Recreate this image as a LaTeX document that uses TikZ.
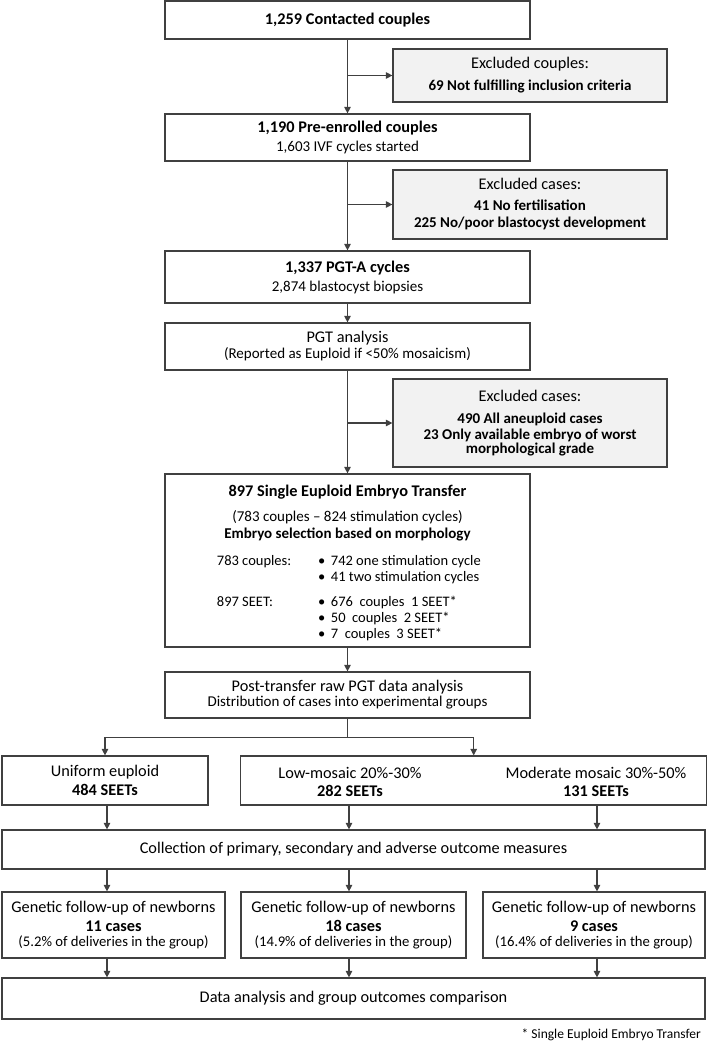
\documentclass[tikz,border=0pt]{standalone}
\usepackage{fontspec}
\setmainfont{Carlito}
\usetikzlibrary{arrows.meta,positioning}

\definecolor{linegray}{HTML}{404040}
\definecolor{exclfill}{HTML}{F2F2F2}

% text sizes of the chart
\newcommand{\bigf}{\fontsize{16.3}{16}\selectfont}
\newcommand{\subf}{\fontsize{15}{16}\selectfont}
\newcommand{\listf}{\fontsize{14.5}{16}\selectfont}
\newcommand{\notef}{\fontsize{14.7}{16}\selectfont}

\begin{document}
\begin{tikzpicture}[
    x=1pt, y=-1pt,
    font=\bigf,
    box/.style={draw=linegray, line width=1.2pt, fill=white, inner sep=0pt, align=center},
    mainbox/.style={box, minimum width=365pt},
    exclbox/.style={box, fill=exclfill, minimum width=274pt},
    groupbox/.style={box, minimum height=49pt},
    genbox/.style={box, minimum height=66pt},
    arrow/.style={-{Triangle[length=6.5pt,width=6.5pt]}, line width=1.1pt, draw=linegray}
  ]
    \useasboundingbox (0,0) rectangle (708,1042);

    % main column
    \node[mainbox, minimum height=38pt] (contact) at (347.5,20) {\textbf{1,259 Contacted couples}};
    \node[exclbox, minimum height=53pt] (exclcouples) at (530,75.5) {Excluded couples:\\[6pt] \subf\textbf{69 Not fulfilling inclusion criteria}};
    \node[mainbox, minimum height=47pt] (enrol) at (347.5,137.5) {\textbf{1,190 Pre-enrolled couples}\\[3pt] \subf 1,603 IVF cycles started};
    \node[exclbox, minimum height=69pt] (exclfert) at (530,204.5) {Excluded cases:\\[5pt] \subf\textbf{41 No fertilisation}\\[1pt] \subf\textbf{225 No/poor blastocyst development}};
    \node[mainbox, minimum height=52pt] (pgta) at (347.5,277) {\textbf{1,337 PGT-A cycles}\\[3pt] \subf 2,874 blastocyst biopsies};
    \node[mainbox, minimum height=47pt] (pgt) at (347.5,346.5) {PGT analysis\\ \subf (Reported as Euploid if <50\% mosaicism)};
    \node[exclbox, minimum height=88pt] (exclaneu) at (530,423) {Excluded cases:\\[6pt] \subf\textbf{490 All aneuploid cases}\\ \subf\textbf{23 Only available embryo of worst}\\[-2pt] \subf\textbf{morphological grade}};

    % transfer box
    \node[mainbox, minimum height=173pt] (seet) at (347.5,560.5) {};
    \node[anchor=north, align=center, inner sep=0pt] (seettitle) at (347.5,485) {\textbf{897 Single Euploid Embryo Transfer}\\[9pt] \subf (783 couples -- 824 stimulation cycles)\\[1pt] \subf\textbf{Embryo selection based on morphology}};
    \node[anchor=base west, inner sep=0pt, font=\listf] (seetlist) at (216.7,565) {%
      \begin{tabular}[t]{@{}p{101.3pt}@{}l@{\hspace{5.5pt}}l@{}}
        783 couples: & \textbullet & 742 one stimulation cycle\\[0.5pt]
                     & \textbullet & 41 two stimulation cycles\\[8.5pt]
        897 SEET:    & \textbullet & 676~ couples~ 1 SEET*\\
                     & \textbullet & 50~ couples~ 2 SEET*\\
                     & \textbullet & 7~ couples~ 3 SEET*
      \end{tabular}};

    \node[mainbox, minimum height=46pt] (post) at (347.5,695) {Post-transfer raw PGT data analysis\\[-1pt] \subf Distribution of cases into experimental groups};

    % experimental groups
    \node[groupbox, minimum width=206pt] (uniform) at (105,780.5) {Uniform euploid\\[2.5pt] \textbf{484 SEETs}};
    \node[groupbox, minimum width=466pt] (mosaic) at (473.7,780.5) {};
    \node[align=center, inner sep=0pt] (lowmos) at (350,782) {Low-mosaic 20\%-30\%\\[2.5pt] \textbf{282 SEETs}};
    \node[align=center, inner sep=0pt] (modmos) at (596,782) {Moderate mosaic 30\%-50\%\\[2.5pt] \textbf{131 SEETs}};

    \node[box, minimum width=703pt, minimum height=39pt] (collect) at (353.5,849.5) {Collection of primary, secondary and adverse outcome measures};

    \node[genbox, minimum width=223pt] (genuni) at (113.5,925) {Genetic follow-up of newborns\\[3pt] \textbf{11 cases}\\[-0.5pt] \notef (5.2\% of deliveries in the group)};
    \node[genbox, minimum width=225pt] (genlow) at (353.5,925) {Genetic follow-up of newborns\\[3pt] \textbf{18 cases}\\[-0.5pt] \notef (14.9\% of deliveries in the group)};
    \node[genbox, minimum width=222pt] (genmod) at (594,925) {Genetic follow-up of newborns\\[3pt] \textbf{9 cases}\\[-0.5pt] \notef (16.4\% of deliveries in the group)};

    \node[box, minimum width=703pt, minimum height=41pt] (data) at (353.5,998.5) {Data analysis and group outcomes comparison};

    \node[anchor=east, inner sep=0pt, font=\fontsize{13.5}{16}\selectfont] (foot) at (701,1035) {* Single Euploid Embryo Transfer};

    % column positions of the lower arrows
    \coordinate (colA) at (107,0);
    \coordinate (colB) at (349,0);
    \coordinate (colC) at (597,0);

    % connectors
    \draw[arrow] (contact) -- (enrol);
    \draw[arrow] (contact.south |- exclcouples.west) -- (exclcouples.west);
    \draw[arrow] (enrol) -- (pgta);
    \draw[arrow] (enrol.south |- exclfert.west) -- (exclfert.west);
    \draw[arrow] (pgta) -- (pgt);
    \draw[arrow] (pgt) -- (seet);
    \draw[arrow] (pgt.south |- exclaneu.west) -- (exclaneu.west);
    \draw[arrow] (seet) -- (post);
    \draw[arrow] (post.south) -- ++(0,19) -| (uniform.north);
    \draw[arrow] (post.south) -- ++(0,19) -| (mosaic.north);

    \draw[arrow] (uniform.south -| colA) -- (collect.north -| colA);
    \draw[arrow] (mosaic.south -| colB) -- (collect.north -| colB);
    \draw[arrow] (mosaic.south -| colC) -- (collect.north -| colC);
    \foreach \c/\g in {colA/genuni, colB/genlow, colC/genmod} {
      \draw[arrow] (collect.south -| \c) -- (\g.north -| \c);
      \draw[arrow] (\g.south -| \c) -- (data.north -| \c);
    }
  \end{tikzpicture}
\end{document}
